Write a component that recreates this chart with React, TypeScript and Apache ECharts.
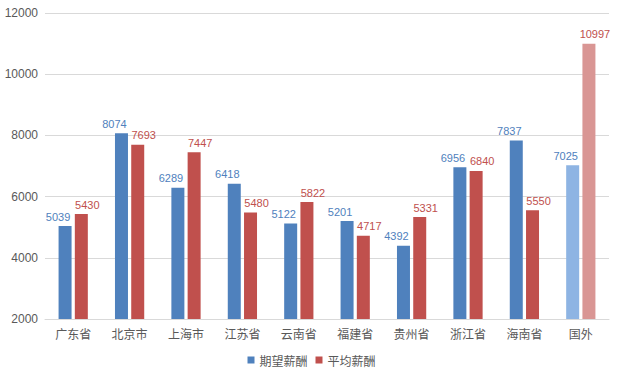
import React, { useEffect, useRef } from "react";
import * as echarts from "echarts";

const categories = ["广东省", "北京市", "上海市", "江苏省", "云南省", "福建省", "贵州省", "浙江省", "海南省", "国外"];
const expected = [5039, 8074, 6289, 6418, 5122, 5201, 4392, 6956, 7837, 7025];
const average = [5430, 7693, 7447, 5480, 5822, 4717, 5331, 6840, 5550, 10997];
const seriesNames = ["期望薪酬", "平均薪酬"];

const BLUE = "#4F81BD";
const RED = "#C0504D";
const LIGHT_BLUE = "#8EB4E3";
const LIGHT_RED = "#D99694";

export default function App() {
  const ref = useRef<HTMLDivElement>(null);
  useEffect(() => {
    if (!ref.current) return;
    const chart = echarts.init(ref.current, undefined, { renderer: "svg" });
    const font = "'Noto Sans CJK SC', 'Liberation Sans', sans-serif";
    const numFont = "'Liberation Sans', sans-serif";
    const last = categories.length - 1;
    chart.setOption({
      animation: false,
      textStyle: { fontFamily: font },
      grid: { left: 45, right: 14, top: 13, bottom: 60 },
      legend: {
        bottom: 8,
        left: "center",
        itemWidth: 7,
        itemHeight: 7,
        itemGap: 8,
        icon: "rect",
        textStyle: { color: "#595959", fontSize: 12, fontFamily: font },
        data: seriesNames,
      },
      xAxis: {
        type: "category",
        data: categories,
        axisLine: { lineStyle: { color: "#D9D9D9" } },
        axisTick: { show: false },
        axisLabel: { color: "#595959", fontSize: 12, margin: 8, fontFamily: font },
      },
      yAxis: {
        type: "value",
        min: 2000,
        max: 12000,
        interval: 2000,
        axisLine: { show: false },
        axisTick: { show: false },
        splitLine: { lineStyle: { color: "#D9D9D9" } },
        axisLabel: {
          color: "#595959",
          fontSize: 12,
          margin: 7,
          fontFamily: numFont,
          formatter: (v: number) => String(v),
        },
      },
      series: [
        {
          name: seriesNames[0],
          type: "bar",
          barWidth: 13,
          barGap: "25%",
          itemStyle: { color: BLUE },
          data: expected.map((v, i) => (i === last ? { value: v, itemStyle: { color: LIGHT_BLUE } } : v)),
          label: {
            show: true,
            position: "top",
            distance: 4,
            offset: [-7, 0],
            color: BLUE,
            fontSize: 11,
            fontFamily: numFont,
          },
        },
        {
          name: seriesNames[1],
          type: "bar",
          barWidth: 13,
          barGap: "25%",
          itemStyle: { color: RED },
          data: average.map((v, i) => (i === last ? { value: v, itemStyle: { color: LIGHT_RED } } : v)),
          label: {
            show: true,
            position: "top",
            distance: 4,
            offset: [6, 0],
            color: RED,
            fontSize: 11,
            fontFamily: numFont,
          },
        },
      ],
    });
    return () => chart.dispose();
  }, []);
  return (
    <div
      ref={ref}
      style={{ position: "fixed", left: 0, top: 0, width: 623, height: 379, background: "#fff" }}
    />
  );
}
